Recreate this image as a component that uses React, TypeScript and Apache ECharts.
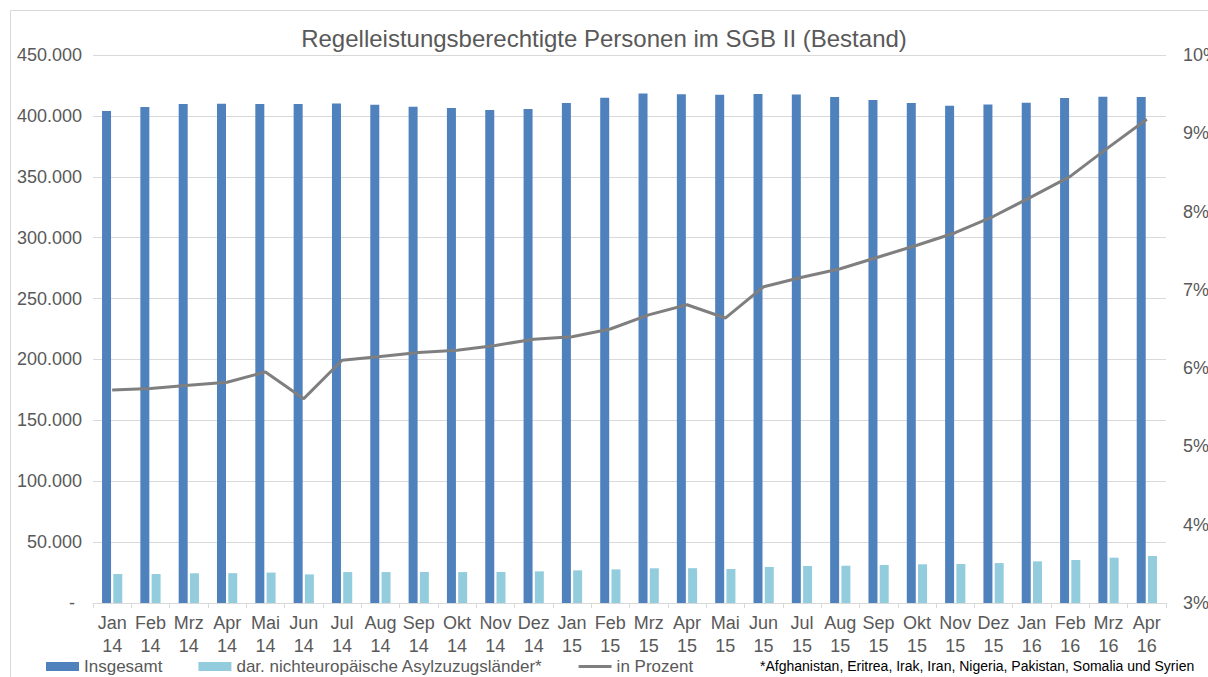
import React, { useEffect, useRef } from "react";
import * as echarts from "echarts";

const categories = [
  "Jan\n14", "Feb\n14", "Mrz\n14", "Apr\n14", "Mai\n14", "Jun\n14", "Jul\n14", "Aug\n14", "Sep\n14", "Okt\n14", "Nov\n14", "Dez\n14",
  "Jan\n15", "Feb\n15", "Mrz\n15", "Apr\n15", "Mai\n15", "Jun\n15", "Jul\n15", "Aug\n15", "Sep\n15", "Okt\n15", "Nov\n15", "Dez\n15",
  "Jan\n16", "Feb\n16", "Mrz\n16", "Apr\n16",
];

const insgesamt = [
  404000, 407300, 409800, 409900, 409700, 409800, 410200, 409200, 407500, 406500, 404900, 405700,
  410600, 414800, 418300, 417800, 417300, 418000, 417500, 415600, 413000, 410600, 408300, 409300,
  410800, 414700, 415800, 415600,
];

const asylzuzug = [
  23800, 23800, 24400, 24500, 25000, 23500, 25400, 25400, 25500, 25400, 25500, 26000,
  26800, 27600, 28500, 28600, 27900, 29600, 30400, 30600, 31200, 31800, 32000, 32800,
  34200, 35300, 37200, 38600,
];

const inProzent = [
  5.72, 5.74, 5.78, 5.82, 5.95, 5.61, 6.10, 6.15, 6.20, 6.23, 6.29, 6.37,
  6.40, 6.50, 6.68, 6.81, 6.64, 7.04, 7.16, 7.27, 7.42, 7.57, 7.73, 7.94,
  8.19, 8.45, 8.82, 9.18,
];

const leftTicks = { min: 0, max: 450000, interval: 50000 };
const rightTicks = { min: 3, max: 10, interval: 1 };

const footnote = "*Afghanistan, Eritrea, Irak, Iran, Nigeria, Pakistan, Somalia und Syrien";
const title = "Regelleistungsberechtigte Personen im SGB II (Bestand)";

const FONT = "'Liberation Sans', Arial, sans-serif";
const TXT = "#595959";
const GRID = "#d9d9d9";

function fmtThousands(v: number): string {
  if (v === 0) return "{d|-}";
  return String(v).replace(/\B(?=(\d{3})+(?!\d))/g, ".");
}

export default function App() {
  const ref = useRef<HTMLDivElement>(null);
  useEffect(() => {
    if (!ref.current) return;
    const chart = echarts.init(ref.current, undefined, { renderer: "svg" });
    chart.setOption({
      animation: false,
      backgroundColor: "#ffffff",
      textStyle: { fontFamily: FONT },
      title: {
        text: title,
        left: "center",
        top: 21,
        textStyle: { fontFamily: FONT, fontSize: 24, fontWeight: "normal", color: TXT },
      },
      grid: { left: 93, right: 42, top: 55, bottom: 74, containLabel: false, outerBoundsMode: "none" },
      legend: {
        left: 41,
        top: 653,
        itemWidth: 33,
        itemHeight: 9,
        itemGap: 36,
        textStyle: { fontFamily: FONT, fontSize: 17, color: TXT },
        data: [
          { name: "Insgesamt", icon: "rect" },
          { name: "dar. nichteuropäische Asylzuzugsländer*", icon: "rect" },
          { name: "in Prozent", icon: "path://M0,0L33,0L33,3L0,3Z", itemStyle: { color: "#7F7F7F" } },
        ],
      },
      graphic: [
        {
          type: "rect",
          shape: { x: 10.5, y: 10.5, width: 1400, height: 800 },
          style: { fill: "none", stroke: GRID, lineWidth: 1 },
          silent: true,
        },
        {
          type: "text",
          left: 760,
          top: 659,
          style: { text: footnote, fontFamily: FONT, fontSize: 14, fill: "#000000" },
        },
      ],
      xAxis: {
        type: "category",
        data: categories,
        axisLine: { lineStyle: { color: GRID } },
        axisTick: { show: true, length: 5, lineStyle: { color: GRID } },
        axisLabel: {
          interval: 0,
          fontFamily: FONT,
          fontSize: 18,
          color: TXT,
          lineHeight: 23,
          margin: 8,
        },
      },
      yAxis: [
        {
          type: "value",
          min: leftTicks.min,
          max: leftTicks.max,
          interval: leftTicks.interval,
          axisLine: { show: false },
          axisTick: { show: false },
          splitLine: { lineStyle: { color: GRID } },
          axisLabel: {
            margin: 11,
            fontFamily: FONT,
            fontSize: 18,
            color: TXT,
            formatter: fmtThousands,
            rich: { d: { fontFamily: FONT, fontSize: 18, color: TXT, padding: [0, 7, 0, 0] } },
          },
        },
        {
          type: "value",
          min: rightTicks.min,
          max: rightTicks.max,
          interval: rightTicks.interval,
          axisLine: { show: false },
          axisTick: { show: false },
          splitLine: { show: false },
          axisLabel: {
            margin: 17,
            fontFamily: FONT,
            fontSize: 18,
            color: TXT,
            formatter: "{value}%",
          },
        },
      ],
      series: [
        {
          name: "Insgesamt",
          type: "bar",
          data: insgesamt,
          barWidth: 9,
          barGap: "25%",
          itemStyle: { color: "#4F81BD" },
        },
        {
          name: "dar. nichteuropäische Asylzuzugsländer*",
          type: "bar",
          data: asylzuzug,
          barWidth: 9,
          barGap: "25%",
          itemStyle: { color: "#93CDDD" },
        },
        {
          name: "in Prozent",
          type: "line",
          yAxisIndex: 1,
          data: inProzent,
          symbol: "none",
          lineStyle: { color: "#7F7F7F", width: 3 },
          itemStyle: { color: "#7F7F7F" },
        },
      ],
    });
    return () => chart.dispose();
  }, []);
  return (
    <div
      ref={ref}
      style={{ position: "fixed", left: 0, top: 0, width: 1208, height: 677, background: "#fff" }}
    />
  );
}
